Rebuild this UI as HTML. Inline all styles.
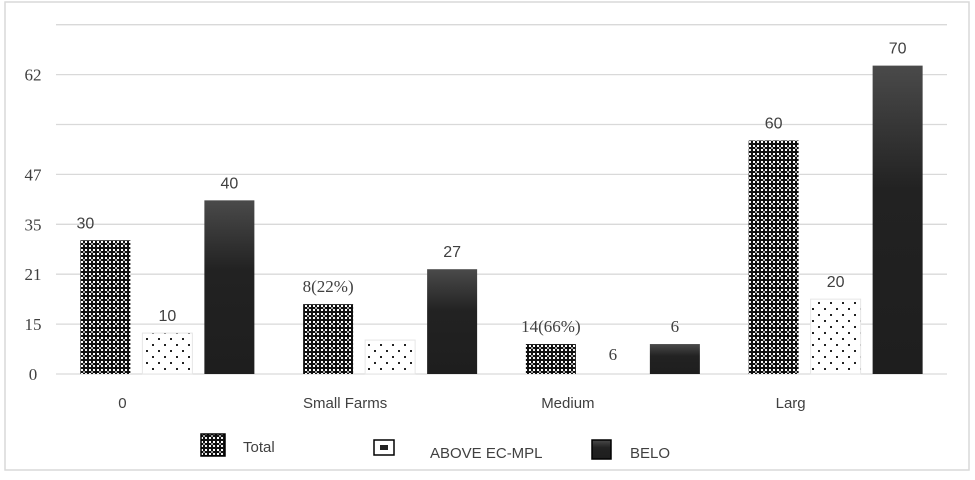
<!DOCTYPE html>
<html><head><meta charset="utf-8"><style>
html,body{margin:0;padding:0;background:#fff;}
svg{display:block;}
</style></head><body>
<svg id="chart" width="975" height="480" viewBox="0 0 975 480" xmlns="http://www.w3.org/2000/svg">
<defs>
<pattern id="pTotal" width="8" height="8" patternUnits="userSpaceOnUse">
<rect width="8" height="8" fill="#111"/>
<rect x="1" y="1" width="2" height="2" fill="#fff"/><rect x="5" y="1" width="2" height="2" fill="#fff"/>
<rect x="1" y="5" width="2" height="2" fill="#fff"/><rect x="5" y="5" width="2" height="2" fill="#eee"/>
<rect x="3" y="3" width="2" height="2" fill="#999"/>
</pattern>
<pattern id="pAbove" width="12" height="12" patternUnits="userSpaceOnUse">
<rect width="12" height="12" fill="#fff"/>
<rect x="2" y="2" width="2" height="2" fill="#222"/><rect x="8" y="8" width="2" height="2" fill="#222"/>
</pattern>
<linearGradient id="gBelow" x1="0" y1="0" x2="0" y2="1">
<stop offset="0" stop-color="#4a4a4a"/><stop offset="0.4" stop-color="#222"/><stop offset="1" stop-color="#1e1e1e"/>
</linearGradient>
</defs>
<rect x="5" y="2" width="964" height="468" fill="#fff" stroke="#d9d9d9" stroke-width="1.5"/>
<g id="grid"></g><g id="bars"></g><g id="labels"></g>
<g font-family="'Liberation Sans',sans-serif" font-size="15" fill="#404040">
<g><rect x="201" y="434" width="24" height="22" fill="url(#pTotal)" stroke="#000" stroke-width="1.5"/><text x="243" y="452">Total</text></g>
<g><rect x="374" y="440" width="20" height="15" fill="#fff" stroke="#000" stroke-width="1.5"/><rect x="380" y="445" width="8" height="5" fill="#222"/><text x="430" y="458">ABOVE EC-MPL</text></g>
<g><rect x="592" y="440" width="19" height="19" fill="url(#gBelow)" stroke="#000" stroke-width="1.5"/><text x="630" y="458">BELO</text></g>
</g>
</svg>
<script>
const categories = ["0", "Small Farms", "Medium", "Larg"];
const totalValues = [26.8, 14, 6, 46.8];
const aboveValues = [8.2, 6.8, 0, 15];
const belowValues = [34.8, 21, 6, 61.8];
const totalLabels = ["30", "8(22%)", "14(66%)", "60"];
const aboveLabels = ["10", "", "6", "20"];
const belowLabels = ["40", "27", "6", "70"];
const tickLabels = ["0", "15", "21", "35", "47", "62"];
const tickValues = [0, 10, 20, 30, 40, 60];
const gridValues = [0, 10, 20, 30, 40, 50, 60, 70];

const NS = "http://www.w3.org/2000/svg";
const x0 = 56, x1 = 947, yBase = 374, pxPerUnit = 4.99;
const y = v => yBase - v * pxPerUnit;
const groupW = (x1 - x0) / categories.length;
const barW = 50, gap = 12;
const gx = i => x0 + i * groupW + groupW / 2;

function mk(tag, attrs, parent) {
  const e = document.createElementNS(NS, tag);
  for (const k in attrs) e.setAttribute(k, attrs[k]);
  parent.appendChild(e);
  return e;
}
const grid = document.getElementById('grid');
gridValues.forEach(v => {
  const l = mk('line', {x1: x0, x2: x1, y1: y(v), y2: y(v), stroke: '#d9d9d9', 'stroke-width': 1.3}, grid);
  
  
});
tickLabels.forEach((t, i) => {
  const e = mk('text', {x: 33, y: y(tickValues[i]) + 6, 'text-anchor': 'middle', 'font-family': "'Liberation Serif',serif", 'font-size': 17, fill: '#404040'}, grid);
  e.textContent = t;
  
  
});
const bars = document.getElementById('bars');
const labels = document.getElementById('labels');
const series = [
  {vals: totalValues, labs: totalLabels, fill: 'url(#pTotal)', name: 'total', off: -(barW + gap)},
  {vals: aboveValues, labs: aboveLabels, fill: 'url(#pAbove)', name: 'above', off: 0},
  {vals: belowValues, labs: belowLabels, fill: 'url(#gBelow)', name: 'below', off: barW + gap}
];
categories.forEach((c, i) => {
  const cx = gx(i);
  const t = mk('text', {x: cx - 45 + (i === 0 ? 0 : 0), y: 408, 'text-anchor': 'middle', 'font-family': "'Liberation Sans',sans-serif", 'font-size': 15, fill: '#404040'}, labels);
  t.textContent = c;
  
  
  series.forEach(s => {
    const v = s.vals[i];
    const bx = cx + s.off - barW / 2;
    if (v > 0) {
      const r = mk('rect', {x: bx, y: y(v), width: barW, height: yBase - y(v), fill: s.fill, stroke: s.name === 'above' ? '#e6e6e6' : 'none'}, bars);
      
      
    }
    const lab = s.labs[i];
    if (lab) {
      const serif = lab.indexOf('(') >= 0 || (v < 8);
      const ly = v > 0 ? y(v) - 12 : y(v) - 14;
      const lt = mk('text', {x: bx + barW / 2 + (s.name === 'total' && i === 0 ? -20 : 0), y: ly, 'text-anchor': 'middle', 'font-family': serif ? "'Liberation Serif',serif" : "'Liberation Sans',sans-serif", 'font-size': serif ? 17 : 16, fill: '#404040'}, labels);
      lt.textContent = lab;
      
      
    }
  });
});
</script>
</body></html>
